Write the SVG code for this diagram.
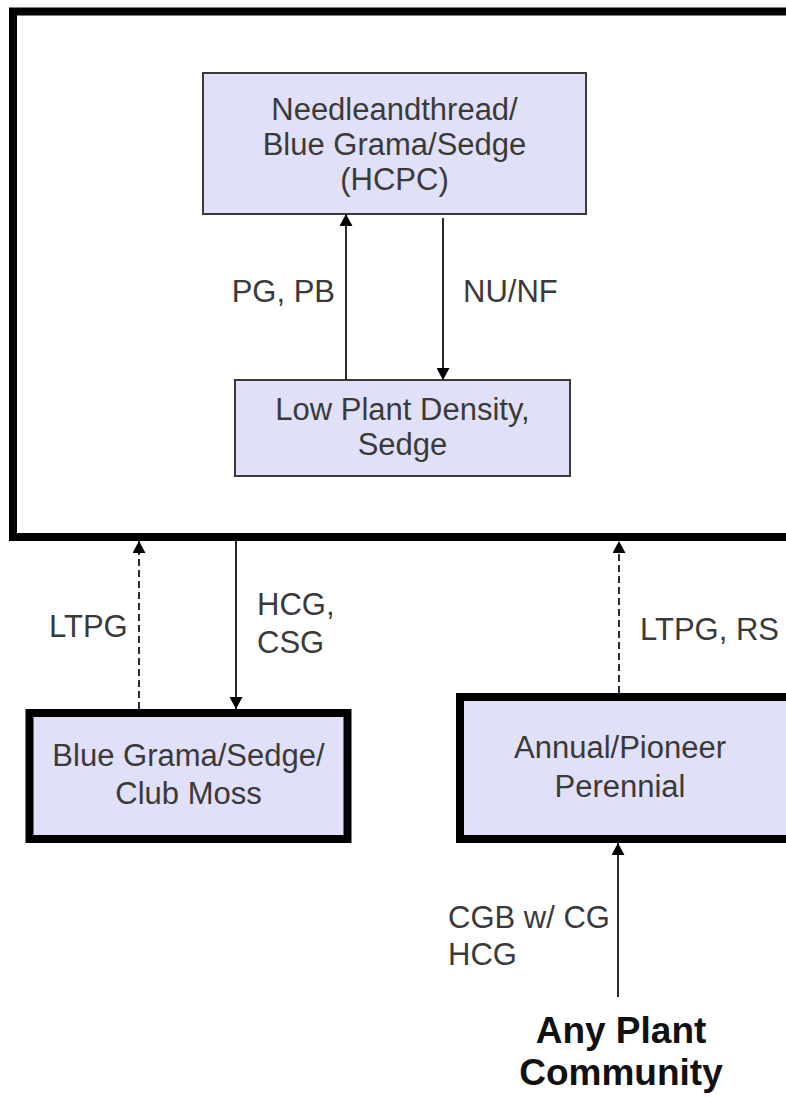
<svg xmlns="http://www.w3.org/2000/svg" width="786" height="1097" viewBox="0 0 786 1097">
<defs>
<style>
.lbl{font-family:"Liberation Sans",Arial,sans-serif;font-size:31px;fill:#3a3a3a;}
.ctr{text-anchor:middle;}
.bold{font-family:"Liberation Sans",Arial,sans-serif;font-size:37px;font-weight:bold;fill:#111;text-anchor:middle;}
.thin{fill:#e0e0f8;stroke:#3a3a3a;stroke-width:2;}
.thick{fill:#e0e0f8;stroke:#000;stroke-width:8;}
.edge{stroke:#2a2a2a;stroke-width:2;fill:none;marker-end:url(#ah);}
.dash{stroke-dasharray:7,4;}
</style>
<marker id="ah" markerUnits="userSpaceOnUse" markerWidth="13" markerHeight="13" refX="12" refY="6.5" orient="auto">
<path d="M0,0 L12,6.5 L0,13 z" fill="#000"/>
</marker>
</defs>
<rect width="786" height="1097" fill="#fff"/>
<g id="frame">
<rect x="13" y="11.5" width="800" height="525.5" fill="none" stroke="#000" stroke-width="8"/>
</g>
<g id="hcpc">
<rect class="thin" x="203" y="73" width="383" height="141"/>
<text class="lbl ctr" x="394.5" y="120">Needleandthread/</text>
<text class="lbl ctr" x="394.5" y="155">Blue Grama/Sedge</text>
<text class="lbl ctr" x="394.5" y="190">(HCPC)</text>
</g>
<g id="lowdensity">
<rect class="thin" x="235" y="380" width="335" height="96"/>
<text class="lbl ctr" x="402.5" y="420">Low Plant Density,</text>
<text class="lbl ctr" x="402.5" y="455">Sedge</text>
</g>
<g id="clubmoss">
<rect class="thick" x="29.5" y="713" width="318" height="126"/>
<text class="lbl ctr" x="188.5" y="766">Blue Grama/Sedge/</text>
<text class="lbl ctr" x="188.5" y="804">Club Moss</text>
</g>
<g id="annual">
<rect class="thick" x="460" y="697" width="400" height="142"/>
<text class="lbl ctr" x="620" y="758">Annual/Pioneer</text>
<text class="lbl ctr" x="620" y="797">Perennial</text>
</g>
<g id="anyplant">
<text class="bold" x="621" y="1043">Any Plant</text>
<text class="bold" x="621" y="1085">Community</text>
</g>
<g id="connectors">
<line class="edge" x1="346" y1="380" x2="346" y2="214"/>
<line class="edge" x1="443" y1="218" x2="443" y2="380"/>
<line class="edge dash" x1="139" y1="709" x2="139" y2="541"/>
<line class="edge" x1="236" y1="541" x2="236" y2="709"/>
<line class="edge dash" x1="619" y1="693" x2="619" y2="541"/>
<line class="edge" x1="618" y1="997" x2="618" y2="843"/>
<text class="lbl" x="335" y="302" text-anchor="end">PG, PB</text>
<text class="lbl" x="463" y="302">NU/NF</text>
<text class="lbl" x="49" y="637">LTPG</text>
<text class="lbl" x="257" y="615">HCG,</text>
<text class="lbl" x="257" y="653">CSG</text>
<text class="lbl" x="640" y="640">LTPG, RS</text>
<text class="lbl" x="448" y="928">CGB w/ CG</text>
<text class="lbl" x="448" y="965">HCG</text>
</g>
</svg>
